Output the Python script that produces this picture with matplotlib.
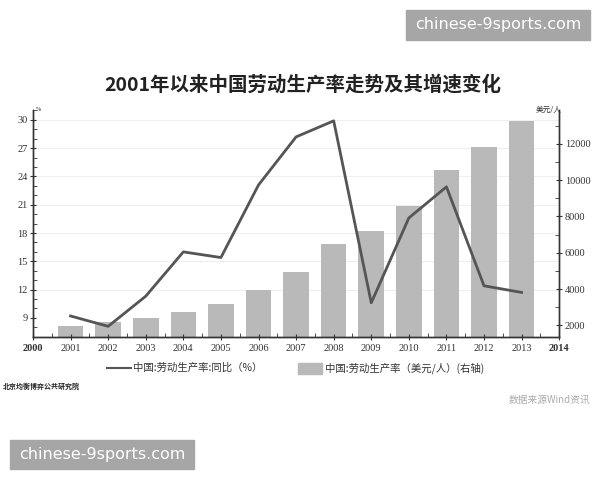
import numpy as np
import matplotlib.pyplot as plt
from matplotlib.ticker import MultipleLocator
from matplotlib.patches import Rectangle
from matplotlib.lines import Line2D

plt.rcParams['font.family'] = ['Liberation Serif', 'Noto Sans CJK SC', 'DejaVu Sans']

years = [2001, 2002, 2003, 2004, 2005, 2006, 2007, 2008, 2009, 2010, 2011, 2012, 2013]
growth = [9.2, 8.1, 11.3, 16.0, 15.4, 23.1, 28.2, 29.9, 10.6, 19.6, 22.9, 12.4, 11.7]
productivity = [1950, 2170, 2390, 2750, 3180, 3950, 4950, 6470, 7200, 8600, 10550, 11840, 13270]

title = '2001年以来中国劳动生产率走势及其增速变化'
line_label = '中国:劳动生产率:同比（%）'
bar_label = '中国:劳动生产率（美元/人）(右轴)'

bar_color = '#b9b9b9'
line_color = '#555555'
axis_color = '#333333'

fig = plt.figure(figsize=(6, 4.8), dpi=100)
ax = fig.add_axes([0.055, 0.2985, 0.877, 0.4725])
ax2 = ax.twinx()

ax.set_xlim(2000, 2014)
ax.set_ylim(7, 31.06)
ax2.set_ylim(1371, 13875)

# faint gridlines behind the bars (left-axis values mapped onto the right axis)
lo, hi = ax.get_ylim()
lo2, hi2 = ax2.get_ylim()
for y in range(12, 31, 3):
    ax2.axhline(lo2 + (y - lo) / (hi - lo) * (hi2 - lo2), color='#efefef', lw=0.8, zorder=0)

ax2.bar(years, productivity, width=0.68, color=bar_color, zorder=1)
ax.plot(years, growth, color=line_color, lw=2, zorder=3)

ax.set_zorder(ax2.get_zorder() + 1)
ax.patch.set_visible(False)

ax.set_yticks(range(9, 31, 3))
ax.yaxis.set_minor_locator(MultipleLocator(1))
ax.set_xticks(range(2000, 2015))
ax.xaxis.set_minor_locator(MultipleLocator(0.5))
ax2.set_yticks(range(2000, 13000, 2000))
ax2.yaxis.set_minor_locator(MultipleLocator(1000))

for a in (ax, ax2):
    a.spines['top'].set_visible(False)
    for s in a.spines.values():
        s.set_color(axis_color)
        s.set_linewidth(1.0)
    a.tick_params(which='major', direction='inout', length=5, width=0.8,
                  colors=axis_color, labelsize=7.5, pad=1.5)
    a.tick_params(which='minor', direction='in', length=3, width=0.6, colors=axis_color)

ax.tick_params(axis='x', pad=3)
for lbl in ax.get_xticklabels():
    if lbl.get_text() in ('2000', '2014'):
        lbl.set_fontweight('bold')

fig.text(0.505, 0.823, title, ha='center', va='center', fontsize=14,
         fontweight='bold', family=['Noto Sans CJK SC', 'DejaVu Sans'], color='#222222')

fig.text(0.06, 0.772, '%', fontsize=4.5, ha='left', va='center', color=axis_color)
fig.text(0.893, 0.772, '美元/人', fontsize=5.5, ha='left', va='center', color=axis_color,
         family=['Noto Sans CJK SC', 'DejaVu Sans'])

# legend
cjk = ['Noto Sans CJK SC', 'DejaVu Sans']
fig.add_artist(Line2D([107 / 600, 131 / 600], [1 - 368 / 480] * 2, color=line_color, lw=1.5))
fig.text(133 / 600, 1 - 368 / 480, line_label, fontsize=7.5, va='center', ha='left',
         family=cjk, color='#333333')
fig.add_artist(Rectangle((298 / 600, 1 - 374 / 480), 24 / 600, 11 / 480,
                         color=bar_color, transform=fig.transFigure))
fig.text(325 / 600, 1 - 368 / 480, bar_label, fontsize=7.5, va='center', ha='left',
         family=cjk, color='#333333')

fig.text(3 / 600, 1 - 386 / 480, '北京均衡博弈公共研究院', fontsize=5, va='center', ha='left',
         family=cjk, fontweight='bold', color='#222222')
fig.text(590 / 600, 1 - 400 / 480, '数据来源Wind资讯', fontsize=7, va='center', ha='right',
         family=cjk, style='italic', color='#aaaaaa')

# watermark boxes
for x0, y0, x1, y1 in [(406, 10, 590, 40), (10, 440, 194, 469)]:
    fig.add_artist(Rectangle((x0 / 600, 1 - y1 / 480), (x1 - x0) / 600, (y1 - y0) / 480,
                             color='#a6a6a6', transform=fig.transFigure))
    fig.text((x0 + x1) / 1200, 1 - (y0 + y1) / 960, 'chinese-9sports.com', fontsize=11.5,
             ha='center', va='center', color='white', family='DejaVu Sans')

fig.savefig('out.png', dpi=100)
